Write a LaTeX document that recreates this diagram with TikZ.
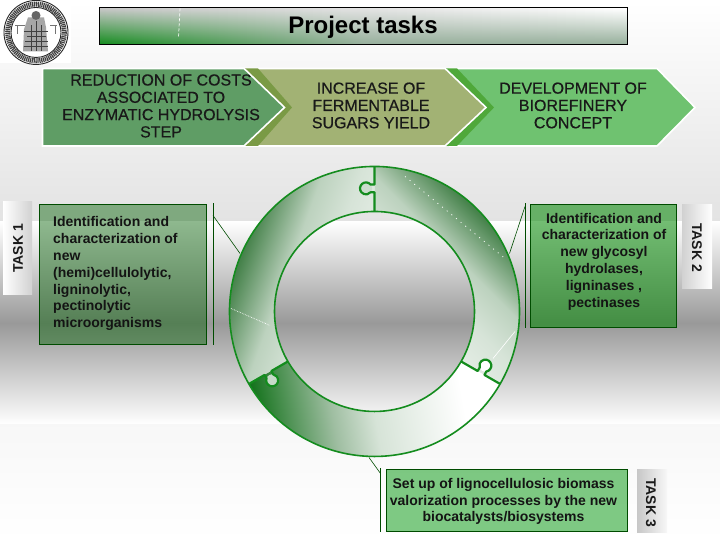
\documentclass[tikz,border=0pt]{standalone}
\usepackage{fontspec}
\setmainfont{Liberation Sans}
\newfontfamily\chevfont{Liberation Sans}[FakeBold=0.5]
\usetikzlibrary{fadings}

\definecolor{ringgreen}{RGB}{20,140,30}
\definecolor{chevgreen}{RGB}{95,157,101}
\definecolor{chevkhaki}{RGB}{162,178,116}
\definecolor{chevlight}{RGB}{111,194,112}
\definecolor{bandkhaki}{RGB}{122,154,69}
\definecolor{bandgreen}{RGB}{79,168,58}
\definecolor{seggreen}{RGB}{70,130,75}
\definecolor{boxdark}{RGB}{0,95,0}
\definecolor{boxmid}{RGB}{0,135,0}
\definecolor{boxlight}{RGB}{0,150,10}
\definecolor{titlegrey}{RGB}{150,175,155}

\pgfdeclareverticalshading{segfade}{100bp}{color(0bp)=(white); color(50bp)=(seggreen!10!white); color(60bp)=(seggreen!22!white); color(66bp)=(seggreen!36!white); color(74bp)=(seggreen); color(100bp)=(seggreen)}
\pgfdeclareverticalshading{seglow}{100bp}{color(0bp)=(white); color(38bp)=(white); color(53bp)=(seggreen!22!white); color(60bp)=(seggreen!52!white); color(73bp)=(ringgreen!80!black); color(100bp)=(ringgreen!80!black)}
\tikzfading[name=titlefade, top color=transparent!100, bottom color=transparent!0]

\tikzset{
x=1pt,y=-1pt,
chevtext/.style={font=\chevfont\fontsize{16}{17.3}\selectfont,align=center,text=black!90,inner sep=0pt},
boxtext/.style={font=\fontsize{14}{16.8}\selectfont\bfseries,text=black!92,inner sep=0pt},
tasktext/.style={font=\fontsize{14}{16}\selectfont\bfseries,text=black!90,inner sep=0pt},
chev/.style={draw=white,line width=1.6pt,line join=miter},
leader/.style={draw=black!70!green,line width=0.6pt},
ringline/.style={draw=ringgreen,line width=1.6pt},
cutline/.style={draw=ringgreen,line width=2.2pt,line join=round},
speck/.style={draw=white,line width=0.8pt,dash pattern=on 1pt off 5pt},
boxline/.style={draw=green!30!black,line width=0.7pt}
}

\begin{document}
\begin{tikzpicture}

% background bands
\shade[top color=white,bottom color=black!11] (0,0) rectangle (720,220);
\shade[top color=white,bottom color=white,middle color=black!40] (0,220) rectangle (720,423);
\shade[top color=black!3,bottom color=white] (0,423) rectangle (720,540);

% seal
\fill[white] (0,0) rectangle (71,62);
\coordinate (seal) at (36,31);
\draw[black!85,line width=0.9pt] (seal) circle (32);
\draw[black!75,line width=5pt,dash pattern=on 1.2pt off 0.7pt] (seal) circle (28.3);
\draw[black!85,line width=0.9pt] (seal) circle (25);
\fill[black!35] (28,16) -- (44,16) -- (46,26) -- (48,50) -- (23,50) -- (24,28) -- cycle;
\fill[black!60] (36,14) circle (4.5);
\draw[black!75,line width=0.9pt] (24,30) -- (48,30) (27,35) -- (46,35) (25,40) -- (48,40) (24,45) -- (48,45) (31,24) -- (31,50) (36,20) -- (36,50) (41,24) -- (41,50);
\draw[black!55,line width=0.6pt] (15,24) -- (25,24) (17,24) -- (17,33) (50,24) -- (57,24) (55,24) -- (55,33);

% title bar
\shade[left color=black!22,right color=white] (100,7) rectangle (627,43);
\shade[left color=ringgreen,right color=titlegrey,middle color=titlegrey,path fading=titlefade] (100,7) rectangle (627,43);
\draw[black,line width=1pt] (99.5,6.5) rectangle (627,43.5);
\draw[white,line width=0.7pt,densely dashed] (180,7) -- (178.5,36);
\node[font=\fontsize{24}{28}\selectfont\bfseries,inner sep=0pt] (title) at (363,25.5) {Project tasks};

% chevrons
\fill[chev,fill=chevlight] (450,67) -- (657,67) -- (695,106) -- (657,144.5) -- (450,144.5) -- cycle;
\fill[bandgreen] (440,67) -- (457,67) -- (494,106) -- (457,144.5) -- (440,144.5) -- cycle;
\fill[chev,fill=chevkhaki] (240,67) -- (445,67) -- (486,106) -- (445,144.5) -- (240,144.5) -- cycle;
\fill[bandkhaki] (235,67) -- (258,67) -- (292,106) -- (258,144.5) -- (235,144.5) -- cycle;
\fill[chev,fill=chevgreen] (42.5,67) -- (244,67) -- (284.5,106) -- (244,144.5) -- (42.5,144.5) -- cycle;

\node[chevtext] (reduce) at (161,104.5) {REDUCTION OF COSTS\\ASSOCIATED TO\\ENZYMATIC HYDROLYSIS\\STEP};
\node[chevtext] (sugars) at (371,104) {INCREASE OF\\FERMENTABLE\\SUGARS YIELD};
\node[chevtext] (refinery) at (573,104) {DEVELOPMENT OF\\BIOREFINERY\\CONCEPT};

% ring segments
\coordinate (ring) at (374.5,310);
\begin{scope}[shift={(ring)},y=1pt]
\begin{scope}
\clip (90:145) arc[start angle=90,end angle=-30,radius=145] -- (-30:100) arc[start angle=-30,end angle=90,radius=100] -- cycle;
\shade[shading=segfade,shading angle=-45] (-150,-150) rectangle (150,150);
\end{scope}
\begin{scope}
\clip (90:145) arc[start angle=90,end angle=210,radius=145] -- (210:100) arc[start angle=210,end angle=90,radius=100] -- cycle;
\shade[shading=segfade,shading angle=70] (-150,-150) rectangle (150,150);
\end{scope}
\begin{scope}
\clip (210:145) arc[start angle=210,end angle=330,radius=145] -- (330:100) arc[start angle=330,end angle=210,radius=100] -- cycle;
\shade[shading=seglow,shading angle=100] (-150,-150) rectangle (150,150);
\end{scope}
\end{scope}
\draw[ringline] (ring) circle (145);
\draw[ringline] (ring) circle (100);

% cuts with their knobs
\foreach \a/\knob in {90/seggreen!28!white,-30/white,210/seggreen!30!white}{
\begin{scope}[shift={(ring)},rotate=\a,y=1pt]
\fill[\knob] (123,8.5) circle (6);
\draw[cutline] (145,0) -- (126.9,0) -- (126.9,3.9) arc[start angle=-50,end angle=230,radius=6] -- (119.1,0) -- (100,0);
\end{scope}
}

% specks on the ring
\draw[speck] (405,175) -- (505,257);
\draw[white,line width=0.7pt,densely dotted] (231,307) -- (270,324);
\draw[white,line width=0.6pt] (515,330) -- (493,357);

% task boxes
\fill[boxdark,opacity=0.44] (39.5,203) rectangle (206.5,343);
\draw[boxline] (39.5,203) rectangle (206.5,343);
\fill[boxmid,opacity=0.55] (530,203) rectangle (676,326);
\draw[boxline] (530,203) rectangle (676,326);
\fill[boxlight,opacity=0.5] (386.5,468) rectangle (627,530);
\draw[boxline] (386.5,468) rectangle (627,530);

\node[boxtext,align=left,anchor=north west] (micro) at (53,215) {Identification and\\characterization of\\new\\(hemi)cellulolytic,\\ligninolytic,\\pectinolytic\\microorganisms};
\node[boxtext,align=center] (hydro) at (604,260) {Identification and\\characterization of\\new glycosyl\\hydrolases,\\ligninases ,\\pectinases};
\node[boxtext,align=center] (setup) at (503.5,500) {Set up of lignocellulosic biomass\\valorization processes by the new\\biocatalysts/biosystems};

% task tabs
\shade[left color=white,right color=black!18] (3,200) rectangle (32,293);
\shade[left color=black!18,right color=white] (682,203) rectangle (712,287);
\shade[left color=black!22,right color=black!3] (637,468) rectangle (667,531);
\node[tasktext,rotate=90] (task1) at (18,247) {TASK 1};
\node[tasktext,rotate=-90] (task2) at (697,246) {TASK 2};
\node[tasktext,rotate=-90] (task3) at (651,501) {TASK 3};

% leaders
\coordinate (micror) at (213,214);
\coordinate (ringl) at (240,252);
\coordinate (hydrol) at (525,205);
\coordinate (ringr) at (509.5,252);
\coordinate (setupl) at (380.5,472);
\coordinate (ringb) at (369,456);
\draw[leader] (213,202) -- (213,344);
\draw[leader] (micror) -- (ringl);
\draw[leader] (525,202) -- (525,327);
\draw[leader] (hydrol) -- (ringr);
\draw[leader] (380.5,467) -- (380.5,531);
\draw[leader] (setupl) -- (ringb);

\useasboundingbox (0,0) rectangle (720,540);
\end{tikzpicture}
\end{document}
